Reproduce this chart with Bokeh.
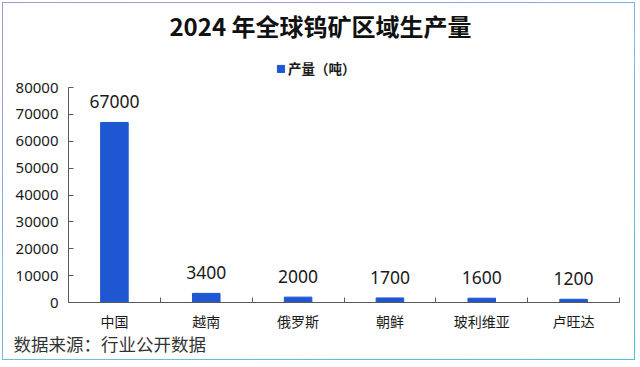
import numpy as np
from bokeh.plotting import figure
from bokeh.models import (Range1d, FixedTicker, NumeralTickFormatter, ColumnDataSource,
                          LabelSet, Legend, LegendItem, Title, Label)
from bokeh.core.properties import value
from bokeh.embed import file_html
from bokeh.resources import INLINE

categories = ["中国", "越南", "俄罗斯", "朝鲜", "玻利维亚", "卢旺达"]
values = [67000, 3400, 2000, 1700, 1600, 1200]
y_ticks = [0, 10000, 20000, 30000, 40000, 50000, 60000, 70000, 80000]
title_text = "2024 年全球钨矿区域生产量"
series_name = "产量（吨）"
source_text = "数据来源：行业公开数据"

FONT = "Noto Sans CJK SC"
NUMFONT = "Noto Sans"
BAR = "#1F56D1"
TXT = "#1a1a1a"

W, H = 633, 358
LEFT, RIGHT, BOTTOM = 65, 17, 59
AXIS_PX = 215          # pixel height of the 0..80000 span
y_max = y_ticks[-1]
frame_h = H - BOTTOM
y_top = y_max * frame_h / AXIS_PX   # frame extends up to the top of the canvas

n = len(categories)
centers = [i + 0.5 for i in range(n)]
bounds = [float(i + 1) for i in range(n)]

src = ColumnDataSource(dict(x=centers, top=values, lab=[str(v) for v in values]))

p = figure(width=W, height=H, output_backend="svg", toolbar_location=None,
           x_range=Range1d(0, n), y_range=Range1d(0, y_top), title_location=None,
           min_border_left=LEFT, min_border_right=RIGHT, min_border_top=0,
           min_border_bottom=BOTTOM)
p.outline_line_color = None
p.grid.visible = False
p.background_fill_color = "white"
p.border_fill_color = "white"

r = p.vbar(x="x", top="top", width=0.3, source=src, color=BAR)

labels = LabelSet(x="x", y="top", text="lab", source=src, text_align="center",
                  text_baseline="alphabetic", y_offset=14, text_font_size=value("17.5px"),
                  text_color=value(TXT), text_font=value(NUMFONT))
p.add_layout(labels)

# y axis
ya = p.yaxis[0]
ya.bounds = (0, y_max)
ya.ticker = FixedTicker(ticks=y_ticks)
ya.formatter = NumeralTickFormatter(format="0")
ya.major_tick_in = 5
ya.major_tick_out = 0
ya.minor_tick_line_color = None
ya.axis_line_color = "#595959"
ya.major_tick_line_color = "#595959"
ya.major_label_text_font = NUMFONT
ya.major_label_text_font_size = "15px"
ya.major_label_text_color = TXT
ya.major_label_standoff = 10

# x axis
xa = p.xaxis[0]
xa.ticker = FixedTicker(ticks=centers, minor_ticks=bounds)
xa.major_label_overrides = {c: lab for c, lab in zip(centers, categories)}
xa.major_tick_in = 0
xa.major_tick_out = 0
xa.minor_tick_in = 5
xa.minor_tick_out = 0
xa.minor_tick_line_color = "#595959"
xa.axis_line_color = "#595959"
xa.major_label_text_font = FONT
xa.major_label_text_font_size = "14px"
xa.major_label_text_color = TXT
xa.major_label_standoff = 8

# legend near the top of the frame (screen units relative to frame bottom-left)
legend = Legend(items=[LegendItem(label=series_name, renderers=[r])],
                orientation="horizontal", location=(208, 224),
                glyph_width=9, glyph_height=9, label_text_font=FONT,
                label_text_font_style="bold", label_text_font_size="13.5px",
                label_text_color=TXT, border_line_color=None,
                background_fill_alpha=0, padding=0, margin=0, spacing=4,
                label_standoff=3, label_height=14)
p.add_layout(legend, "center")

# main title
p.add_layout(Label(x=252, y=277, x_units="screen", y_units="screen", text=title_text,
                   text_align="center", text_baseline="middle", text_font=FONT,
                   text_font_size="24px", text_font_style="bold", text_color="#111111"))

# source note
p.add_layout(Title(text=source_text, align="left", offset=-55, text_font=FONT,
                   text_font_size="17.5px", text_font_style="normal",
                   text_color="#333333", standoff=-6, vertical_align="top"), "below")

p.styles = {"margin": "2px", "border": "1.5px solid",
            "border-image": "linear-gradient(160deg, #b08fd8, #7fb7e4 45%, #49c6d4) 1"}

open("out.html", "w").write(file_html(p, INLINE))
